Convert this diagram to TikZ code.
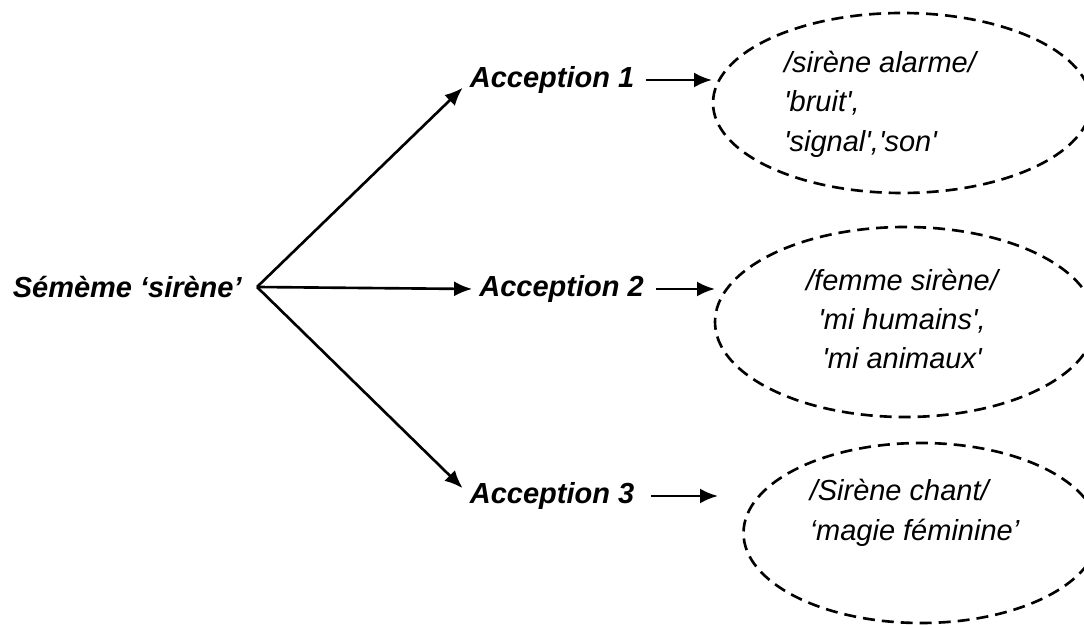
\documentclass[tikz,border=0pt]{standalone}
\usepackage{fontspec}
\setmainfont{Liberation Sans}[Ligatures=TeXOff]
\usetikzlibrary{shapes.geometric, arrows.meta}
\tikzset{
->,
>={Latex[length=0.36cm, width=0.3cm]},
seme/.style={font=\bfseries\itshape\fontsize{16.5}{20}\selectfont, anchor=east, inner xsep=0.28cm}, % the sememe on the left
acception/.style={font=\bfseries\itshape\fontsize{16.5}{20}\selectfont}, % the three meanings
sens/.style={ellipse, draw, dash pattern=on 0.24cm off 0.14cm, inner sep=0pt}, % dashed ellipses
glose/.style={font=\itshape\fontsize{16.5}{22.4}\selectfont}, % text inside the ellipses
}

\begin{document}
\begin{tikzpicture}[line width=1.5pt]
\useasboundingbox (0, 0) rectangle (21.68, 12.5);
\node[seme] at (5.14, 6.76) (seme) {Sémème ‘sirène’};
\node[acception] at (11.04, 10.9) (acc1) {Acception 1};
\node[acception] at (11.23, 6.72) (acc2) {Acception 2};
\node[acception] at (11.04, 2.58) (acc3) {Acception 3};
\node[sens, minimum width=7.56cm, minimum height=3.6cm] at (18.04, 10.44) (sens1) {};
\node[sens, minimum width=7.6cm, minimum height=3.8cm] at (18.1, 6.06) (sens2) {};
\node[sens, minimum width=7.1cm, minimum height=3.6cm] at (18.42, 1.84) (sens3) {};
\node[glose, align=left] at (17.6, 10.42) (glose1) {/sirène alarme/\\'bruit',\\'signal','son'};
\node[glose, align=center] at (18.04, 6.12) (glose2) {/femme sirène/\\'mi humains',\\'mi animaux'};
\node[glose, align=left] at (18.29, 2.24) (glose3) {/Sirène chant/\\‘magie féminine’};
\coordinate (b1) at (14.24, 10.9);
\coordinate (b2) at (14.30, 6.72);
\coordinate (b3) at (14.36, 2.58);
\draw (seme.east) -- (acc1.185);
\draw (seme.east) -- (acc2.west);
\draw (seme.east) -- (acc3.175);
\draw[shorten <=0.1cm] (acc1.east) -- (b1);
\draw[shorten <=0.1cm] (acc2.east) -- (b2);
\draw[shorten <=0.2cm] (acc3.east) -- (b3);

\end{tikzpicture}
\end{document}
